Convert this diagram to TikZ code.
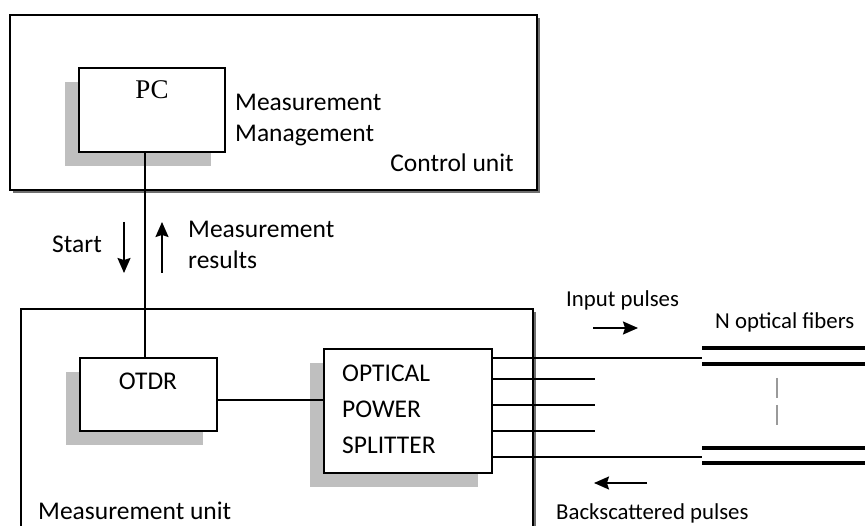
\documentclass[tikz,border=0pt]{standalone}
\usepackage{fontspec}
\setmainfont{Carlito}
\newfontfamily\pcfont{Liberation Serif}
\usetikzlibrary{arrows.meta,shadows}

\definecolor{blockshadow}{HTML}{BFBFBF}
\definecolor{unitshadow}{HTML}{6F6F6F}
\definecolor{fibermark}{HTML}{9A9A9A}

\begin{document}
\begin{tikzpicture}[
  x=1pt,
  y=-1pt,
  line join=miter,
  unitbox/.style={draw=black,fill=white,line width=1.7pt,inner sep=0pt,
    drop shadow={shadow xshift=3pt,shadow yshift=-3pt,fill=unitshadow,opacity=1}},
  blockbox/.style={draw=black,fill=white,line width=1.7pt,inner sep=0pt,
    drop shadow={shadow xshift=-14pt,shadow yshift=-14pt,fill=blockshadow,opacity=1}},
  txt/.style={inner sep=0pt,font=\fontsize{25.5}{31}\selectfont},
  smalltxt/.style={inner sep=0pt,font=\fontsize{22.8}{28}\selectfont},
  link/.style={draw=black,line width=1.7pt},
  fiber/.style={draw=black,line width=3.2pt},
  flow/.style={draw=black,line width=1.8pt,-{Stealth[length=15pt,width=13pt,inset=2pt]}}
]
  % Keep the frame of the original figure.
  \useasboundingbox (0,0) rectangle (865,526);
  \clip (0,0) rectangle (865,526);

  % Outer units with their dark edge shadow.
  \node[unitbox,minimum width=527pt,minimum height=175pt] (controlUnit) at (273.5,102.5) {};
  \node[unitbox,minimum width=512pt,minimum height=251pt] (measUnit) at (277,434.5) {};

  % Inner blocks with the grey offset shadow.
  \node[blockbox,minimum width=146pt,minimum height=84pt] (pc) at (152,110) {};
  \node[blockbox,minimum width=137pt,minimum height=73pt] (otdr) at (148.5,394.5) {};
  \node[blockbox,minimum width=168pt,minimum height=124pt] (splitter) at (408,411) {};

  % Texts.
  \node[inner sep=0pt,font=\pcfont\fontsize{27}{32}\selectfont,anchor=base] (pcLabel) at (152,99) {PC};
  \node[txt,anchor=north west,align=left] (mgmtLabel) at (235,94) {Measurement\\Management};
  \node[txt,anchor=base east] (controlLabel) at (514,172) {Control unit};
  \node[txt,anchor=base west] (startLabel) at (52,253) {Start};
  \node[txt,anchor=north west,align=left] (resultsLabel) at (188,221) {Measurement\\results};
  \node[txt,anchor=base] (otdrLabel) at (148,390) {OTDR};
  \node[txt,anchor=north west,align=left,font=\fontsize{25.5}{36}\selectfont] (splitterLabel) at (342,365) {OPTICAL\\POWER\\SPLITTER};
  \node[txt,anchor=base west] (measLabel) at (38,519) {Measurement unit};
  \node[smalltxt,anchor=base west] (inputLabel) at (566,307) {Input pulses};
  \node[smalltxt,anchor=base west] (fibersLabel) at (715,329) {N optical fibers};
  \node[smalltxt,anchor=base west] (backLabel) at (556,519) {Backscattered pulses};

  % Links between the blocks.
  \coordinate (busX) at (145,0);
  \coordinate (busY) at (0,400);
  \draw[link] (pc.south -| busX) -- (otdr.north -| busX);
  \draw[link] (otdr.east |- busY) -- (splitter.west |- busY);

  % Splitter outputs; the outer two reach the fibers.
  \foreach \yy/\xend in {358/702,379/595,405/595,431/595,457/702}
    \draw[link] (splitter.east |- 0,\yy) -- (\xend,\yy);

  % N optical fibers.
  \coordinate (fiberStart) at (702,0);
  \foreach \yy in {348,364,448,463}
    \draw[fiber] (fiberStart |- 0,\yy) -- (870,\yy);
  \draw[fibermark,line width=1.2pt] (777,378) -- (777,398);
  \draw[fibermark,line width=1.2pt] (777,405) -- (777,425);

  % Direction arrows.
  \draw[flow] (124,222) -- (124,273);
  \draw[flow] (162,273) -- (162,222);
  \draw[flow] (593,328) -- (638,328);
  \draw[flow] (647,483) -- (594,483);
\end{tikzpicture}
\end{document}
